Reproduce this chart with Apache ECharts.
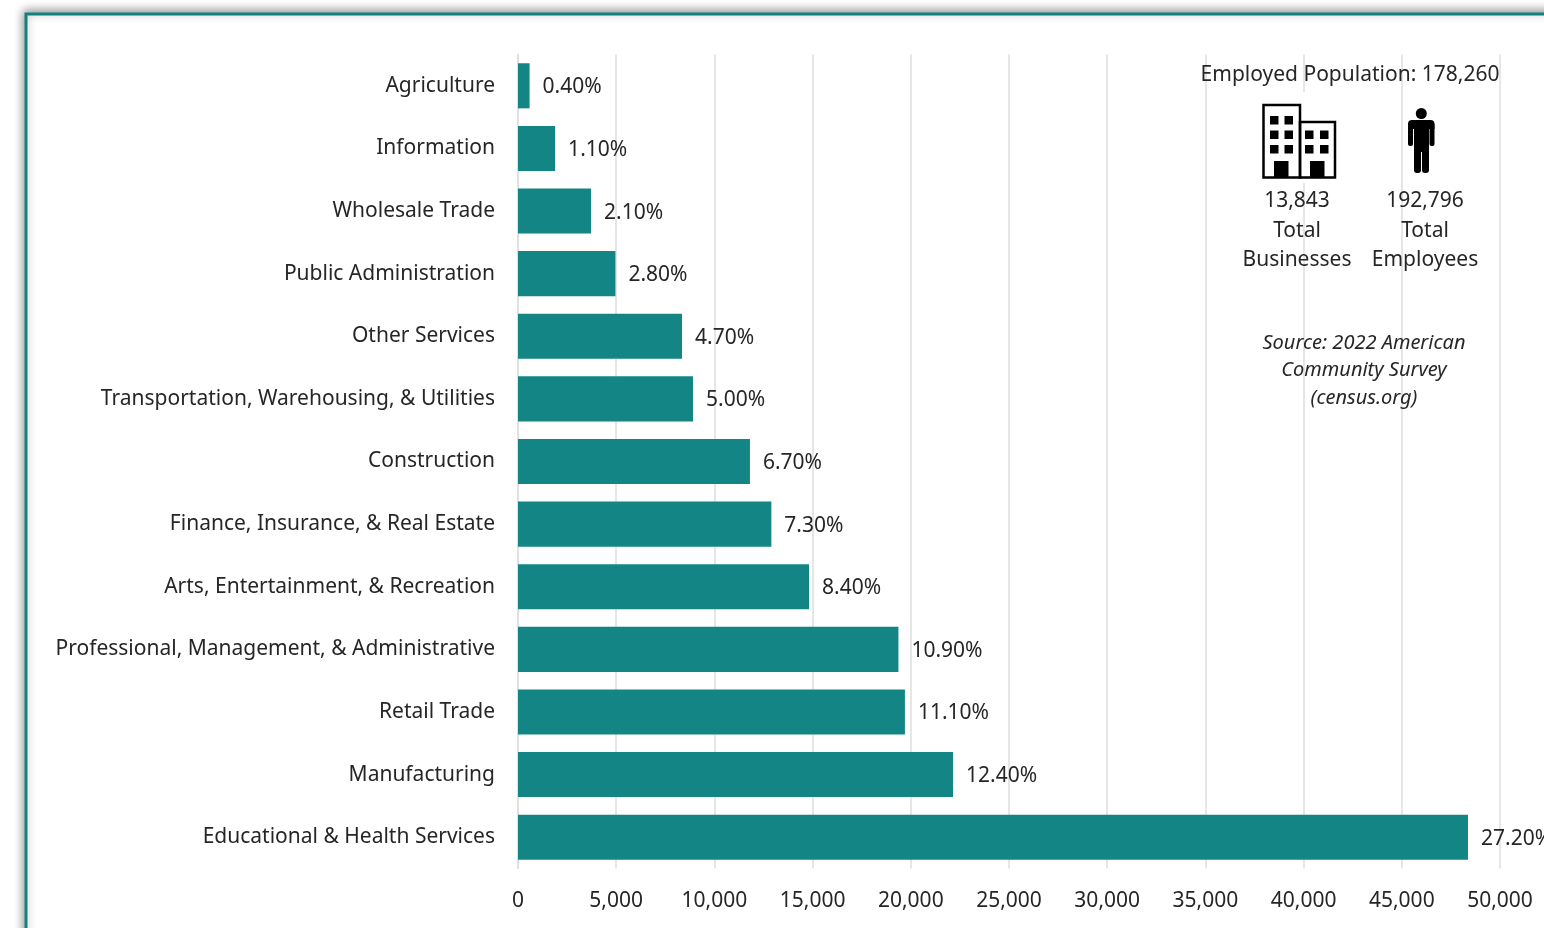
<!DOCTYPE html>
<html><head><meta charset="utf-8">
<style>html,body{margin:0;padding:0;background:#fff;overflow:hidden}#c{width:1544px;height:928px}</style>
<script src="https://cdn.jsdelivr.net/npm/echarts@6/dist/echarts.min.js"></script>
</head><body><div id="c"></div>
<script>
const categories = ["Agriculture","Information","Wholesale Trade","Public Administration","Other Services","Transportation, Warehousing, & Utilities","Construction","Finance, Insurance, & Real Estate","Arts, Entertainment, & Recreation","Professional, Management, & Administrative","Retail Trade","Manufacturing","Educational & Health Services"];
const employed = [590,1890,3720,4960,8350,8910,11810,12900,14820,19370,19700,22150,48370];
const shareLabels = ["0.40%","1.10%","2.10%","2.80%","4.70%","5.00%","6.70%","7.30%","8.40%","10.90%","11.10%","12.40%","27.20%"];
const axisMax = 50000, axisStep = 5000;
const insetHeadline = "Employed Population: 178,260";
const businessLines = ["13,843","Total","Businesses"];
const employeeLines = ["192,796","Total","Employees"];
const sourceLines = ["Source: 2022 American","Community Survey","(census.org)"];

const FONT = '"Noto Sans"';
const SIZE = 21;
const INK = '#262626', TEAL = '#138585';
const txt = (x,y,text,size,extra) => ({type:'text',x,y,silent:true,z:20,style:Object.assign({text,fill:INK,font:`${size}px ${FONT}`,align:'center',verticalAlign:'middle'},extra||{})});
const box = (x,y,width,height,fill,r) => ({type:'rect',z:19,silent:true,shape:{x,y,width,height,r:r||0},style:{fill:fill||'#000'}});

const building = [
  box(1262,92,76,91,'#fff'),
  {type:'rect',z:19,silent:true,shape:{x:1263.5,y:105,width:36.5,height:72.5},style:{fill:'none',stroke:'#000',lineWidth:2.5}},
  {type:'rect',z:19,silent:true,shape:{x:1300,y:122,width:35,height:55.5},style:{fill:'none',stroke:'#000',lineWidth:2.5}}
];
[1270,1284.5].forEach(x=>[116,130.5,145].forEach(y=>building.push(box(x,y,8.5,8.5))));
[1305,1320].forEach(x=>[130.5,145].forEach(y=>building.push(box(x,y,8.5,8.5))));
[1274,1310].forEach(x=>building.push(box(x,161,14.5,17)));
const person = [
  {type:'circle',z:19,silent:true,shape:{cx:1421.3,cy:113.5,r:5.5},style:{fill:'#000'}},
  box(1408,120,26.5,9,'#000',[4,4,0,0]),
  box(1408,123,5,23,'#000',2),
  box(1429.5,123,5,23,'#000',2),
  box(1414,122,15,30,'#000'),
  box(1414,146,7,27,'#000',3),
  box(1422,146,7,27,'#000',3)
];

const graphic = [
  {type:'rect',z:0,silent:true,shape:{x:26,y:14,width:1600,height:1000},style:{fill:'#fff',stroke:'#138080',lineWidth:3,shadowBlur:10,shadowColor:'rgba(0,0,0,0.4)',shadowOffsetX:-1,shadowOffsetY:-2}},
  ...building,...person,
  txt(1350,75,insetHeadline,SIZE),
  ...businessLines.map((t,i)=>txt(1297,201+i*29.7,t,SIZE)),
  ...employeeLines.map((t,i)=>txt(1425,201+i*29.7,t,SIZE)),
  ...sourceLines.map((t,i)=>txt(1364,343+i*27.5,t,20,{font:`italic 20px ${FONT}`}))
];

const chart = echarts.init(document.getElementById('c'),null,{renderer:'canvas'});
chart.setOption({
  animation:false,
  backgroundColor:'#fff',
  textStyle:{fontFamily:FONT},
  grid:{left:518,top:54.5,width:982,height:814,containLabel:false},
  xAxis:{type:'value',min:0,max:axisMax,interval:axisStep,
    axisLine:{show:false},axisTick:{show:false},
    axisLabel:{color:INK,fontSize:SIZE,fontFamily:FONT,margin:22,formatter:v=>v.toLocaleString('en-US')},
    splitLine:{show:true,lineStyle:{color:'#dedede',width:1.5}}},
  yAxis:{type:'category',inverse:true,data:categories,
    axisLine:{show:true,lineStyle:{color:'#dedede',width:1.5}},axisTick:{show:false},
    axisLabel:{color:INK,fontSize:SIZE,fontFamily:FONT,margin:23}},
  series:[{type:'bar',data:employed,barWidth:'72%',itemStyle:{color:TEAL},
    label:{show:true,position:'right',distance:13,offset:[0,1.5],color:INK,fontSize:SIZE,fontFamily:FONT,formatter:p=>shareLabels[p.dataIndex]}}],
  graphic
});
</script></body></html>
